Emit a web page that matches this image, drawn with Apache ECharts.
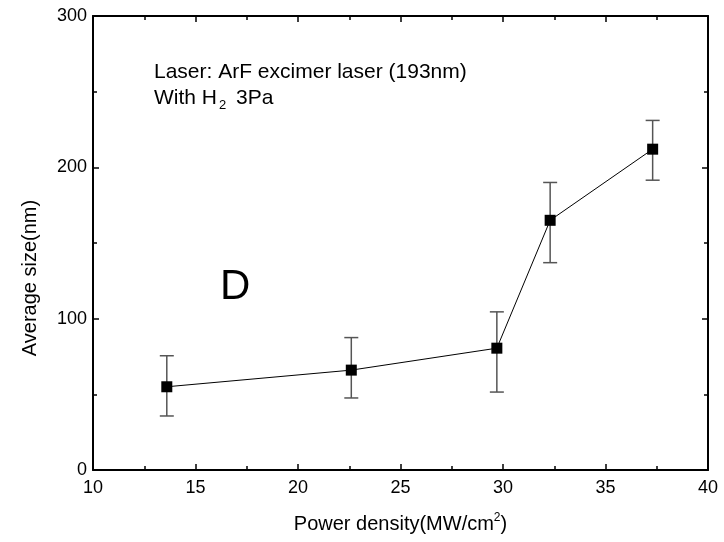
<!DOCTYPE html>
<html><head><meta charset="utf-8">
<script src="https://cdn.jsdelivr.net/npm/echarts@6/dist/echarts.min.js"></script>
<style>html,body{margin:0;padding:0;background:#fff}#c{width:724px;height:542px}</style>
</head><body><div id="c"></div>
<script>
const powerDensity = [13.6, 22.6, 29.7, 32.3, 37.3];
const avgSize = [55, 66, 80.5, 165, 212];
const errLow = [35.7, 47.6, 51.5, 137, 191.5];
const errHigh = [75.5, 87.5, 104.5, 190, 231];
const xTicks = [10, 15, 20, 25, 30, 35, 40];
const yTicks = [0, 100, 200, 300];

const FONT = 'Liberation Sans, Arial, sans-serif';
const chart = echarts.init(document.getElementById('c'));
const axisCommon = {
  axisLine: {show: true, onZero: false, lineStyle: {color: '#000', width: 2}},
  axisTick: {show: true, inside: true, length: 6, lineStyle: {color: '#000', width: 1.5}},
  minorTick: {show: true, splitNumber: 2, length: 4, lineStyle: {color: '#000', width: 1.5}},
  splitLine: {show: false}
};
chart.setOption({
  animation: false,
  backgroundColor: '#fff',
  grid: {left: 93, right: 16, top: 16, bottom: 72},
  xAxis: [
    Object.assign({type: 'value', min: xTicks[0], max: xTicks[xTicks.length-1], interval: 5,
      position: 'bottom',
      axisLabel: {color: '#000', fontSize: 18, fontFamily: FONT, margin: 9},
      name: '{a|Power density(MW/cm}{s|2}{a|)}', nameLocation: 'middle', nameGap: 42,
      nameTextStyle: {rich: {a: {fontSize: 20, fontFamily: FONT, color: '#000'},
        s: {fontSize: 12, fontFamily: FONT, color: '#000', verticalAlign: 'top', padding: [0,0,12,0]}}}
    }, axisCommon),
    Object.assign({type: 'value', min: xTicks[0], max: xTicks[xTicks.length-1], interval: 5,
      position: 'top', axisLabel: {show: false}}, axisCommon)
  ],
  yAxis: [
    Object.assign({type: 'value', min: yTicks[0], max: yTicks[yTicks.length-1], interval: 100,
      position: 'left',
      axisLabel: {color: '#000', fontSize: 18, fontFamily: FONT, margin: 6}
    }, axisCommon),
    Object.assign({type: 'value', min: yTicks[0], max: yTicks[yTicks.length-1], interval: 100,
      position: 'right', axisLabel: {show: false}}, axisCommon)
  ],
  graphic: [
    {type: 'text', x: 30, y: 278, rotation: Math.PI / 2,
      style: {text: 'Average size(nm)', font: '20px ' + FONT, fill: '#000', align: 'center', verticalAlign: 'middle'}},
    {type: 'text', left: 154, top: 62, style: {text: 'Laser: ArF excimer laser (193nm)', font: '21px ' + FONT, fill: '#000'}},
    {type: 'text', left: 154, top: 88, style: {
      text: '{a|With H}{s|2}{a| 3Pa}',
      rich: {a: {fontSize: 21, fontFamily: FONT, color: '#000'},
             s: {fontSize: 13, fontFamily: FONT, color: '#000', verticalAlign: 'bottom', padding: [14,4,0,2]}}}},
    {type: 'text', left: 220, top: 266, style: {text: 'D', font: '42px ' + FONT, fill: '#000'}}
  ],
  series: [
    {
      type: 'custom',
      data: powerDensity.map((x, i) => [x, errLow[i], errHigh[i]]),
      z: 1,
      renderItem: function (params, api) {
        const lo = api.coord([api.value(0), api.value(1)]);
        const hi = api.coord([api.value(0), api.value(2)]);
        const hw = 7;
        const st = {stroke: '#555', lineWidth: 1.5};
        return {type: 'group', children: [
          {type: 'line', shape: {x1: lo[0], y1: lo[1], x2: hi[0], y2: hi[1]}, style: st},
          {type: 'line', shape: {x1: lo[0]-hw, y1: lo[1], x2: lo[0]+hw, y2: lo[1]}, style: st},
          {type: 'line', shape: {x1: hi[0]-hw, y1: hi[1], x2: hi[0]+hw, y2: hi[1]}, style: st}
        ]};
      }
    },
    {
      type: 'line',
      z: 3,
      data: powerDensity.map((x, i) => [x, avgSize[i]]),
      symbol: 'rect', symbolSize: 11,
      itemStyle: {color: '#000'},
      lineStyle: {color: '#000', width: 1}
    }
  ]
});
</script></body></html>
